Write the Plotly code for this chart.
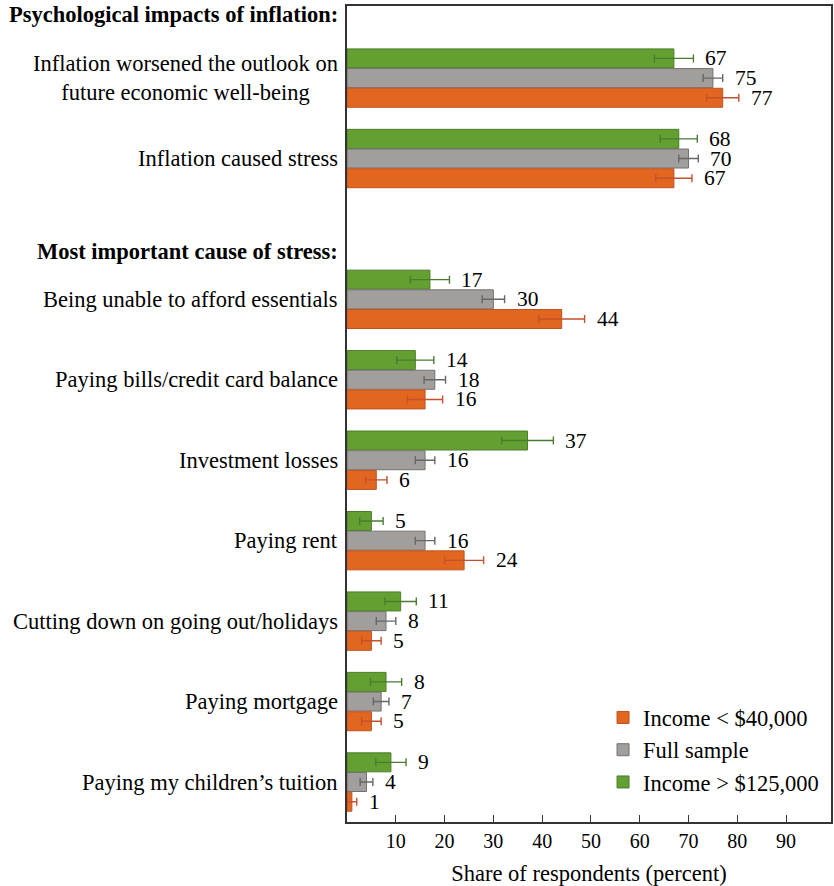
import plotly.graph_objects as go

# Survey responses (percent of respondents) with half-width of the confidence bands
labels = [
    "Inflation worsened the outlook on<br>future economic well-being",
    "Inflation caused stress",
    "Being unable to afford essentials",
    "Paying bills/credit card balance",
    "Investment losses",
    "Paying rent",
    "Cutting down on going out/holidays",
    "Paying mortgage",
    "Paying my children’s tuition",
]
section_titles = ["Psychological impacts of inflation:", "Most important cause of stress:"]
section_sizes = [2, 7]

low_income = [77, 67, 44, 16, 6, 24, 5, 5, 1]
full_sample = [75, 70, 30, 18, 16, 16, 8, 7, 4]
high_income = [67, 68, 17, 14, 37, 5, 11, 8, 9]

low_err = [3.3, 3.7, 4.7, 3.6, 2.2, 4.0, 2.0, 2.0, 1.0]
full_err = [2.0, 2.0, 2.3, 2.2, 2.0, 2.0, 2.0, 1.6, 1.3]
high_err = [4.0, 3.8, 4.0, 3.8, 5.3, 2.4, 3.2, 3.2, 3.1]

series_names = ["Income > $125,000", "Full sample", "Income < $40,000"]

# ---- layout helpers -------------------------------------------------------
SECTION_GAP = 0.75          # extra space between the two sections (in row units)
BARGAP = 0.266
FONT = "Liberation Serif, Times New Roman, serif"
TXT = 22.5

ypos = []
header_y = []
start = 0.0
for k, n in enumerate(section_sizes):
    if k > 0:
        start += SECTION_GAP
    header_y.append(start - 0.79 if k == 0 else start - 0.6)
    ypos.extend(start + i for i in range(n))
    start += n

styles = {
    "Income > $125,000": dict(fill="#63A031", edge="#4C7E2A", err="#4A7B30"),
    "Full sample": dict(fill="#A29E9C", edge="#737171", err="#686666"),
    "Income < $40,000": dict(fill="#E2661F", edge="#BF5224", err="#C4502C"),
}
values = {
    "Income > $125,000": (high_income, high_err),
    "Full sample": (full_sample, full_err),
    "Income < $40,000": (low_income, low_err),
}

fig = go.Figure()
for name in series_names:
    vals, errs = values[name]
    st = styles[name]
    fig.add_trace(go.Bar(
        name=name,
        y=ypos,
        x=vals,
        orientation="h",
        marker=dict(color=st["fill"], line=dict(color=st["edge"], width=1)),
        error_x=dict(type="data", array=errs, visible=True,
                     color=st["err"], thickness=1.4, width=4),
    ))

annotations = []
# value labels just past the error bar
slot = (1 - BARGAP) / 3
for j, name in enumerate(series_names):
    vals, errs = values[name]
    off = (j - 1) * slot
    for y, v, e in zip(ypos, vals, errs):
        annotations.append(dict(
            x=v + e, y=y + off, xref="x", yref="y", text=str(v),
            showarrow=False, xanchor="left", yanchor="middle", xshift=10,
            font=dict(family=FONT, size=21.5, color="black"),
        ))

# category labels
for y, lab in zip(ypos, labels):
    annotations.append(dict(
        x=0, y=y, xref="paper", yref="y", text=lab, showarrow=False,
        xanchor="right", yanchor="middle", align="center", xshift=-7,
        font=dict(family=FONT, size=TXT, color="black"),
    ))

# section headings
for y, t in zip(header_y, section_titles):
    annotations.append(dict(
        x=0, y=y, xref="paper", yref="y", text="<b>" + t + "</b>",
        showarrow=False, xanchor="right", yanchor="middle", xshift=-7,
        font=dict(family=FONT, size=TXT, color="black"),
    ))

fig.update_layout(
    width=834, height=886,
    margin=dict(l=347, r=1, t=6, b=64),
    plot_bgcolor="white", paper_bgcolor="white",
    barmode="group", bargap=BARGAP, bargroupgap=0.035,
    font=dict(family=FONT, size=20, color="black"),
    showlegend=True,
    legend=dict(
        x=0.529, y=0.154, xanchor="left", yanchor="top",
        traceorder="reversed", bgcolor="rgba(0,0,0,0)",
        font=dict(family=FONT, size=TXT, color="black"),
        itemwidth=30, tracegroupgap=0,
    ),
    annotations=annotations,
)
fig.update_xaxes(
    range=[0, 99.2], tickvals=[10, 20, 30, 40, 50, 60, 70, 80, 90],
    ticks="inside", ticklen=7, tickcolor="#333", tickwidth=1,
    showline=True, mirror=True, linecolor="#333", linewidth=1.5,
    showgrid=False, zeroline=False,
    tickfont=dict(family=FONT, size=20, color="black"),
    title=dict(text="Share of respondents (percent)",
               font=dict(family=FONT, size=TXT, color="black"), standoff=15),
)
fig.update_yaxes(
    range=[9.247, -0.896], showticklabels=False, ticks="",
    showline=True, mirror=True, linecolor="#333", linewidth=1.5,
    showgrid=False, zeroline=False,
)

fig.write_html("out.html")
